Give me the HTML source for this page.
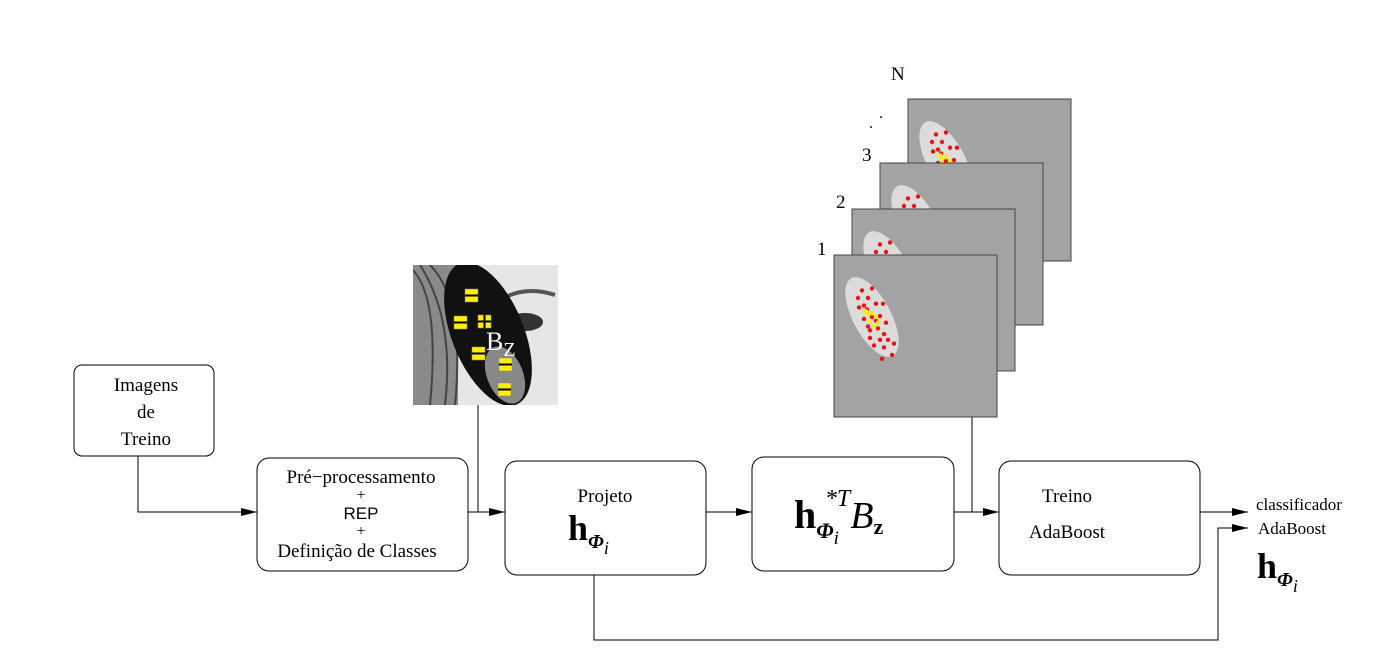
<!DOCTYPE html>
<html><head><meta charset="utf-8"><style>
body{margin:0;background:#fff}
svg{display:block}
text{font-family:"Liberation Serif",serif;fill:#000}
</style></head><body>
<svg width="1391" height="658" viewBox="0 0 1391 658">
<defs>
<marker id="ar" markerWidth="16" markerHeight="8" refX="16" refY="4" orient="auto" markerUnits="userSpaceOnUse"><path d="M0,0 L16,4 L0,8 Z" fill="#000"/></marker>
<clipPath id="faceclip"><rect x="413" y="265" width="145" height="140"/></clipPath>
</defs>
<g fill="none" stroke="#000" stroke-width="1">
<path d="M138,456 V512 H257" marker-end="url(#ar)"/>
<path d="M478,405 V512"/>
<path d="M468,512 H505" marker-end="url(#ar)"/>
<path d="M706,512 H752" marker-end="url(#ar)"/>
<path d="M954,512 H999" marker-end="url(#ar)"/>
<path d="M972,417 V512"/>
<path d="M1200,512 H1248" marker-end="url(#ar)"/>
<path d="M594,575 V640 H1218 V528 H1248" marker-end="url(#ar)"/>
</g>
<g fill="#fff" stroke="#000" stroke-width="1">
<rect x="74" y="365" width="140" height="91" rx="8"/>
<rect x="257" y="458" width="211" height="113" rx="12"/>
<rect x="505" y="461" width="201" height="114" rx="12"/>
<rect x="752" y="457" width="202" height="114" rx="12"/>
<rect x="999" y="461" width="201" height="114" rx="12"/>
</g>
<g font-size="19" text-anchor="middle">
<text x="146" y="391">Imagens</text><text x="146" y="418">de</text><text x="146" y="445">Treino</text>
<text x="361" y="483">Pré−processamento</text>
<text x="361" y="500" font-size="16">+</text>
<text x="361" y="519" font-size="17" style="font-family:'Liberation Sans',sans-serif">REP</text>
<text x="361" y="536" font-size="16">+</text>
<text x="357" y="557">Definição de Classes</text>
<text x="605" y="502">Projeto</text>
<text x="1067" y="502">Treino</text>
<text x="1067" y="538">AdaBoost</text>
</g>
<text x="568" y="540" font-size="36" font-weight="bold">h<tspan font-size="20" font-style="italic" dy="8">Φ</tspan><tspan font-size="18" font-style="italic" font-weight="normal" dy="6">i</tspan></text>
<text x="794" y="528" font-size="40" font-weight="bold">h<tspan font-size="22" font-style="italic" dy="10">Φ</tspan><tspan font-size="19" font-style="italic" font-weight="normal" dy="6">i</tspan><tspan font-size="24" font-weight="normal" font-style="italic" dx="-14" dy="-38">*T</tspan><tspan font-size="38" font-weight="normal" font-style="italic" dy="22">B</tspan><tspan font-size="22" dy="6">z</tspan></text>
<text x="1256" y="510" font-size="17">classificador</text>
<text x="1258" y="534" font-size="17">AdaBoost</text>
<text x="1257" y="578" font-size="36" font-weight="bold">h<tspan font-size="20" font-style="italic" dy="8">Φ</tspan><tspan font-size="18" font-style="italic" font-weight="normal" dy="6">i</tspan></text>
<g clip-path="url(#faceclip)">
<rect x="413" y="265" width="145" height="140" fill="#e6e6e6"/>
<rect x="413" y="265" width="45" height="140" fill="#8a8a8a"/>
<path d="M413,270 Q440,300 430,405 M420,265 Q455,320 445,405 M430,265 Q465,300 455,405" stroke="#444" stroke-width="2" fill="none"/>
<path d="M500,300 Q525,285 555,295" stroke="#555" stroke-width="4" fill="none"/>
<ellipse cx="525" cy="322" rx="18" ry="9" fill="#333"/>
<ellipse cx="488" cy="334" rx="36" ry="76" transform="rotate(-22 488 334)" fill="#111"/>
<ellipse cx="505" cy="375" rx="18" ry="30" transform="rotate(-22 505 375)" fill="#888"/>
<g fill="#ffee00" stroke="#888" stroke-width="0.5">
<rect x="465" y="289" width="13" height="13"/><rect x="454" y="316" width="13" height="13"/><rect x="478" y="315" width="13" height="13"/><rect x="472" y="347" width="13" height="13"/><rect x="499" y="358" width="13" height="13"/><rect x="498" y="383" width="13" height="13"/>
</g>
<g stroke="#000" stroke-width="2"><path d="M465,295.5h13M454,322.5h13M478,321.5h13M484.5,315v13M472,353.5h13M499,364.5h13M498,389.5h13"/></g>
<text x="486" y="350" font-size="26" style="fill:#fff">B<tspan font-size="20" dy="6">Z</tspan></text>
</g>
<g id="stack"></g>
<g font-size="19">
<text x="817" y="255">1</text><text x="836" y="208">2</text><text x="862" y="161">3</text><text x="891" y="80">N</text>
<text x="869" y="128" font-size="16">.</text><text x="879" y="118" font-size="16">.</text>
</g>
</svg>
<script>
const squares=[[908,99],[880,163],[852,209],[834,255]];
const redDots=[[-10,-28],[0,-30],[-14,-20],[-4,-20],[-13,-10],[-5,-8],[4,-14],[11,-14],[-8,2],[0,0],[8,-1],[14,6],[-4,10],[6,12],[12,18],[-2,22],[8,24],[16,24],[2,30],[12,32],[22,28],[20,40],[10,44],[-8,-12],[4,4],[-2,14]];
const yelDots=[[-6,-6],[0,-4],[4,0],[-2,4],[6,6],[2,10],[-4,-2]];
const g=document.getElementById('stack');
const ns='http://www.w3.org/2000/svg';
squares.forEach((s,k)=>{
 const r=document.createElementNS(ns,'rect');
 
 
 r.setAttribute('x',s[0]);r.setAttribute('y',s[1]);r.setAttribute('width',163);r.setAttribute('height',162);
 r.setAttribute('fill','#a3a3a3');r.setAttribute('stroke','#444');
 g.appendChild(r);
 const cx=s[0]+38,cy=s[1]+62;
 const e=document.createElementNS(ns,'ellipse');
 
 
 e.setAttribute('cx',cx);e.setAttribute('cy',cy);e.setAttribute('rx',19);e.setAttribute('ry',44);
 e.setAttribute('transform','rotate(-28 '+cx+' '+cy+')');e.setAttribute('fill','#dcdcdc');
 g.appendChild(e);
 [[redDots,'#ee1111'],[yelDots,'#ffee00']].forEach(([arr,col])=>arr.forEach(d=>{
  const c=document.createElementNS(ns,'circle');
  
  
  c.setAttribute('cx',cx+d[0]);c.setAttribute('cy',cy+d[1]*0.95);c.setAttribute('r',2.2);c.setAttribute('fill',col);
  g.appendChild(c);
 }));
});
</script>
</body></html>
